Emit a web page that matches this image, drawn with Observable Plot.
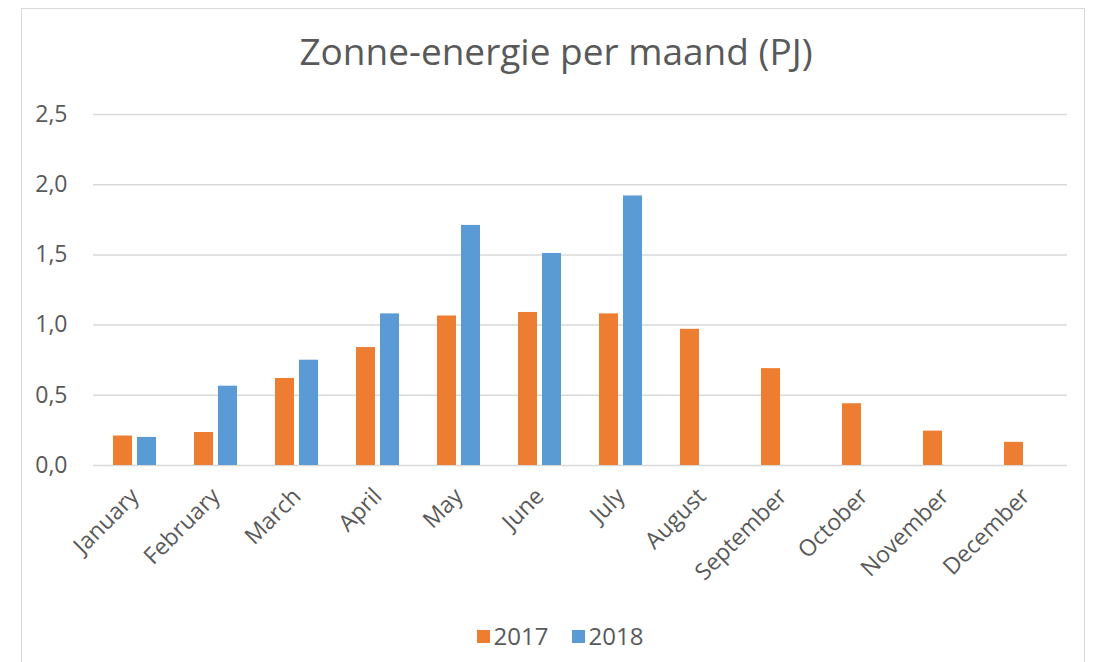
<!DOCTYPE html>
<html>
<head>
<meta charset="utf-8">
<script src="https://cdn.jsdelivr.net/npm/d3@7"></script>
<script src="https://cdn.jsdelivr.net/npm/@observablehq/plot@0.6"></script>
<style>
  html, body { margin: 0; padding: 0; background: #fff; }
  body { width: 1094px; height: 662px; position: relative; overflow: hidden; font-family: "Open Sans", sans-serif; }
  #frame { position: absolute; left: 21px; top: 8px; width: 1064px; height: 680px; border: 1px solid #d9d9d9; box-sizing: border-box; }
  #title { position: absolute; left: 18px; top: 26px; width: 1076px; text-align: center; font-size: 37px; line-height: 1.362; color: #595959; }
  #chart { position: absolute; left: 0; top: 100px; }
  #legend { position: absolute; left: 26px; top: 619px; width: 1068px; display: flex; justify-content: center; align-items: center; gap: 23px; font-size: 24px; line-height: 34px; color: #595959; }
  .sw { display: inline-block; width: 13px; height: 13px; margin-right: 4px; }
  .item { display: flex; align-items: center; }
</style>
</head>
<body>
<div id="frame"></div>
<div id="title">Zonne-energie per maand (PJ)</div>
<div id="chart"></div>
<div id="legend"></div>
<script>
const months = ["January","February","March","April","May","June","July","August","September","October","November","December"];
const years = ["2017","2018"];
const values2017 = [0.21, 0.235, 0.62, 0.84, 1.065, 1.09, 1.08, 0.97, 0.69, 0.44, 0.245, 0.165];
const values2018 = [0.20, 0.565, 0.75, 1.08, 1.71, 1.51, 1.92, null, null, null, null, null];
const yTicks = [0, 0.5, 1.0, 1.5, 2.0, 2.5];
const colors = ["#ED7D31", "#5B9BD5"];

const rows2017 = months.map((m, i) => ({month: m, year: "2017", value: values2017[i]}));
const rows2018 = months.map((m, i) => ({month: m, year: "2018", value: values2018[i]})).filter(d => d.value != null);

const fmt = d => d.toFixed(1).replace(".", ",");

const chart = Plot.plot({
  width: 1094,
  height: 510,
  marginLeft: 93,
  marginRight: 27,
  marginTop: 14,
  marginBottom: 145,
  style: { fontFamily: "Open Sans, sans-serif", fontSize: "23px", color: "#595959", background: "transparent", overflow: "visible" },
  x: { domain: months, paddingInner: 0.766, paddingOuter: 0.383, align: 0.5, label: null, tickSize: 0, tickPadding: 27, tickRotate: -45 },
  y: { domain: [0, 2.5], ticks: yTicks, tickFormat: fmt, label: null, tickSize: 0, tickPadding: 26 },
  color: { domain: years, range: colors },
  marks: [
    Plot.ruleY(yTicks, { stroke: "#d9d9d9", strokeWidth: 1.5 }),
    Plot.barY(rows2017, { x: "month", y: "value", fill: "year", dx: -12 }),
    Plot.barY(rows2018, { x: "month", y: "value", fill: "year", dx: 12 })
  ]
});
document.getElementById("chart").appendChild(chart);

const legend = document.getElementById("legend");
years.forEach((y, i) => {
  const it = document.createElement("div");
  it.className = "item";
  it.innerHTML = `<span class="sw" style="background:${colors[i]}"></span><span>${y}</span>`;
  legend.appendChild(it);
});
</script>
</body>
</html>
